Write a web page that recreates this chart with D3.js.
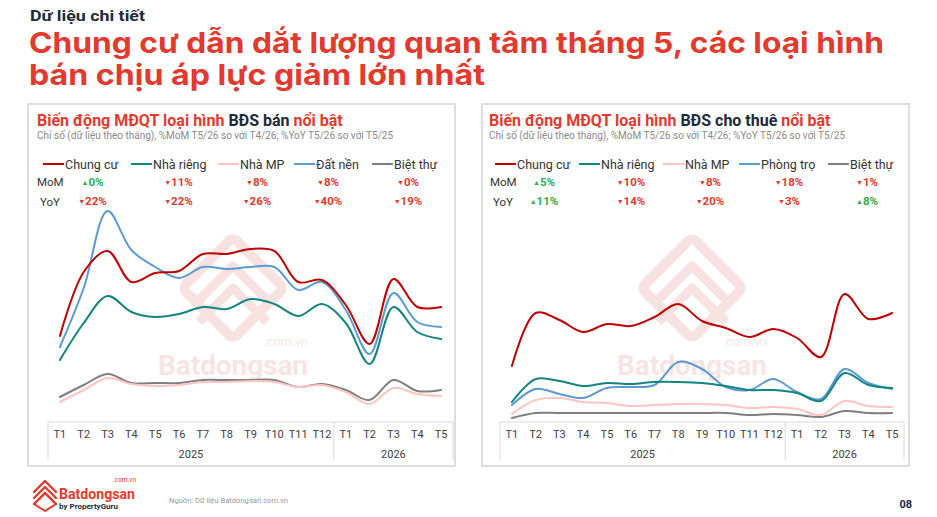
<!DOCTYPE html>
<html lang="vi">
<head>
<meta charset="utf-8">
<script src="https://cdn.jsdelivr.net/npm/d3@7/dist/d3.min.js"></script>
<style>
  html, body { margin: 0; padding: 0; background: #ffffff; }
  svg { display: block; font-family: Roboto, "Noto Sans", Arial, sans-serif; }
</style>
</head>
<body>
<svg id="chart" width="937" height="517"></svg>
<script>
// ---------------- DATA ----------------
const monthLabels = ["T1","T2","T3","T4","T5","T6","T7","T8","T9","T10","T11","T12","T1","T2","T3","T4","T5"];
const yearLabels = ["2025", "2026"];
const yearMonthCounts = [12, 5];

// Sale (BĐS bán) – index values
const saleNames = ["Chung cư", "Nhà riêng", "Nhà MP", "Đất nền", "Biệt thự"];
const saleChungCu = [43, 75, 85.5, 70, 74.5, 75.5, 84, 84, 86.5, 85.5, 70, 71, 58.5, 39, 71.5, 57.5, 57.5];
const saleNhaRieng = [31, 49.5, 63, 55, 52.5, 54, 57.5, 56.5, 61.5, 59, 53, 59, 49.5, 29, 57.5, 45, 41.5];
const saleNhaMP = [10, 16, 22, 19, 18, 18.5, 20, 20, 20.5, 20, 17.5, 18.5, 15, 9, 17, 14, 13];
const saleDatNen = [37.5, 67, 105.5, 86, 77.5, 72, 77.5, 76.5, 77.5, 77.5, 66, 70, 56, 34, 64.5, 50, 47.5];
const saleBietThu = [12.5, 18.5, 24, 19.5, 19.5, 19.5, 21, 21, 21, 21, 17.5, 19, 16, 11, 21, 15.5, 16];
const saleMoM = [0.3, -11, -8, -8, -0.4];
const saleYoY = [-22, -22, -26, -40, -19];

// Rent (BĐS cho thuê)
const rentNames = ["Chung cư", "Nhà riêng", "Nhà MP", "Phòng trọ", "Biệt thự"];
const rentChungCu = [28, 54.5, 51, 45, 49, 48, 52.5, 59, 50.5, 47, 42.5, 46.5, 42, 32.5, 64, 51.5, 54.5];
const rentNhaRieng = [10, 21.5, 20.5, 18, 19.5, 19, 20, 20, 19.5, 18, 16, 16, 14.5, 10.5, 24.5, 18.5, 17];
const rentNhaMP = [4, 11, 12, 10, 9.5, 8, 8.5, 9, 9, 8.5, 7, 7.5, 6.5, 3.5, 10.5, 8, 7.5];
const rentPhongTro = [8.5, 16.5, 14, 12, 17, 17.5, 18.5, 30, 26.5, 17.5, 16, 21.5, 15, 11.5, 26.5, 19.5, 16.5];
const rentBietThu = [2, 4.5, 4.5, 4.5, 4.5, 4.5, 4.5, 4.5, 4.5, 4.5, 3.5, 4, 3.5, 2.5, 5.5, 4.5, 4.5];
const rentMoM = [5, -10, -8, -18, -1];
const rentYoY = [11, -14, -20, -3, 8];

// ---------------- STYLE ----------------
const seriesColors = ["#c00000", "#138481", "#ffc4c0", "#5b9bd5", "#7f7f7f"];
const drawOrder = [4, 2, 3, 1, 0];
const RED = "#e23a2e", NAVY = "#1c2b3a", GREEN = "#27ae4f";

const svg = d3.select("#chart");

// ---------------- HEADER ----------------
svg.append("text").attr("x", 30).attr("y", 21)
  .attr("font-size", 15).attr("font-weight", 700).attr("fill", NAVY)
  .attr("textLength", 115).attr("lengthAdjust", "spacingAndGlyphs")
  .text("Dữ liệu chi tiết");
svg.append("text").attr("x", 29).attr("y", 53)
  .attr("font-family", "Inter, Roboto, sans-serif")
  .attr("font-size", 29).attr("font-weight", 700).attr("fill", RED)
  .attr("textLength", 855).attr("lengthAdjust", "spacingAndGlyphs")
  .text("Chung cư dẫn dắt lượng quan tâm tháng 5, các loại hình");
svg.append("text").attr("x", 29).attr("y", 85)
  .attr("font-family", "Inter, Roboto, sans-serif")
  .attr("font-size", 29).attr("font-weight", 700).attr("fill", RED)
  .attr("textLength", 456).attr("lengthAdjust", "spacingAndGlyphs")
  .text("bán chịu áp lực giảm lớn nhất");

// ---------------- FOOTER ----------------
const logo = svg.append("g");
[0, 6, 12].forEach(dy => {
  logo.append("path")
    .attr("d", `M34,${492 + dy} L45,${481 + dy} L56,${492 + dy}`)
    .attr("fill", "none").attr("stroke", RED).attr("stroke-width", 2.4)
    .attr("stroke-linejoin", "round").attr("stroke-linecap", "round");
});
logo.append("path").attr("d", "M34,504 L45,493 L56,504 L45,511 Z")
  .attr("fill", "none").attr("stroke", RED).attr("stroke-width", 2).attr("stroke-linejoin", "round");
svg.append("text").attr("x", 59).attr("y", 499)
  .attr("font-size", 15.5).attr("font-weight", 700).attr("fill", RED)
  .attr("textLength", 76).attr("lengthAdjust", "spacingAndGlyphs")
  .text("Batdongsan");
svg.append("text").attr("x", 136).attr("y", 482).attr("text-anchor", "end")
  .attr("font-size", 6.5).attr("fill", RED).text(".com.vn");
svg.append("text").attr("x", 59).attr("y", 509)
  .attr("font-size", 8).attr("font-weight", 700).attr("fill", NAVY).text("by PropertyGuru");
svg.append("text").attr("x", 169).attr("y", 503)
  .attr("font-size", 7.6).attr("fill", "#9a9a9a").text("Nguồn: Dữ liệu Batdongsan.com.vn");
svg.append("text").attr("x", 912).attr("y", 508).attr("text-anchor", "end")
  .attr("font-size", 11).attr("font-weight", 700).attr("fill", NAVY).text("08");

// ---------------- PANEL ----------------
function fmtPct(v) { return Math.round(Math.abs(v)) + "%"; }

function drawPanel(cfg) {
  const g = svg.append("g");
  const L = cfg.left;
  g.append("rect").attr("x", L).attr("y", 104).attr("width", cfg.width).attr("height", 362)
    .attr("fill", "#fff").attr("stroke", "#dedede").attr("stroke-width", 2);

  // title
  const t = g.append("text").attr("x", cfg.titleX).attr("y", 126)
    .attr("font-size", 16).attr("font-weight", 700);
  t.append("tspan").attr("fill", RED).text("Biến động MĐQT loại hình ");
  t.append("tspan").attr("fill", NAVY).text(cfg.titleMid);
  t.append("tspan").attr("fill", RED).text(" nổi bật");
  g.append("text").attr("x", cfg.titleX).attr("y", 139)
    .attr("font-size", 10).attr("fill", "#8a8a8a")
    .text("Chỉ số (dữ liệu theo tháng), %MoM T5/26 so với T4/26; %YoY T5/26 so với T5/25");

  // legend
  cfg.names.forEach((n, i) => {
    const lx = cfg.legendX[i];
    g.append("line").attr("x1", lx).attr("x2", lx + 21).attr("y1", 164).attr("y2", 164)
      .attr("stroke", seriesColors[i]).attr("stroke-width", 2);
    g.append("text").attr("x", lx + 22).attr("y", 168.5)
      .attr("font-size", 12.5).attr("fill", "#333").text(n);
  });

  // MoM / YoY rows
  g.append("text").attr("x", cfg.momLabelX).attr("y", 186).attr("font-size", 11.5).attr("fill", "#333").text("MoM");
  g.append("text").attr("x", cfg.momLabelX + 3).attr("y", 206).attr("font-size", 11.5).attr("fill", "#333").text("YoY");
  [[cfg.mom, 185.5], [cfg.yoy, 205]].forEach(([arr, yy]) => {
    arr.forEach((v, i) => {
      const up = v > 0;
      const col = up ? GREEN : RED;
      const tx = g.append("text").attr("x", cfg.valueX[i]).attr("y", yy)
        .attr("text-anchor", "middle").attr("fill", col).attr("font-weight", 700).attr("font-size", 11.5);
      tx.append("tspan").attr("font-size", 7).attr("dy", -1).text(up ? "▲" : "▼");
      tx.append("tspan").attr("dy", 1).text(fmtPct(v));
    });
  });

  // scales
  const x = d3.scalePoint().domain(d3.range(monthLabels.length)).range([cfg.axisL, cfg.axisR]).padding(0.5);
  const y = d3.scaleLinear().domain([0, 110]).range([422, 202]);

  // watermark
  const wm = g.append("g").attr("opacity", 0.55);
  const cx = cfg.wmX, cy = 288;
  wm.append("rect").attr("x", -36).attr("y", -36).attr("width", 72).attr("height", 72).attr("rx", 6)
    .attr("transform", `translate(${cx},${cy}) rotate(45)`)
    .attr("fill", "none").attr("stroke", "#f2caca").attr("stroke-width", 10);
  [-8, 14].forEach(dy => {
    wm.append("path").attr("d", `M${cx - 34},${cy + dy + 20} L${cx},${cy + dy - 14} L${cx + 34},${cy + dy + 20}`)
      .attr("fill", "none").attr("stroke", "#f2caca").attr("stroke-width", 9).attr("stroke-linejoin", "round");
  });
  wm.append("text").attr("x", cx).attr("y", 375).attr("text-anchor", "middle")
    .attr("font-size", 27).attr("font-weight", 700).attr("fill", "#f3cfcf")
    .attr("textLength", 150).attr("lengthAdjust", "spacingAndGlyphs")
    .text("Batdongsan");
  wm.append("text").attr("x", cx + 75).attr("y", 346).attr("text-anchor", "end")
    .attr("font-size", 12.5).attr("fill", "#f3cfcf").text(".com.vn");

  // lines
  const line = d3.line().x((d, i) => x(i)).y(d => y(d)).curve(d3.curveCatmullRom.alpha(0.5));
  drawOrder.forEach(si => {
    g.append("path").datum(cfg.series[si]).attr("d", line)
      .attr("fill", "none").attr("stroke", seriesColors[si]).attr("stroke-width", 2)
      .attr("stroke-linecap", "round");
  });

  // category axis box
  const ax = g.append("g").attr("stroke", "#d9d9d9").attr("stroke-width", 1);
  ax.append("line").attr("x1", cfg.axisL).attr("x2", cfg.axisR).attr("y1", 422).attr("y2", 422);
  let acc = 0;
  const bounds = [cfg.axisL];
  yearMonthCounts.forEach(c => { acc += c; bounds.push(cfg.axisL + acc * x.step()); });
  bounds.forEach(bx => ax.append("line").attr("x1", bx).attr("x2", bx).attr("y1", 422).attr("y2", 460));

  monthLabels.forEach((m, i) => {
    g.append("text").attr("x", x(i)).attr("y", 438).attr("text-anchor", "middle")
      .attr("font-size", 11).attr("fill", "#404040").text(m);
  });
  yearLabels.forEach((yl, k) => {
    g.append("text").attr("x", (bounds[k] + bounds[k + 1]) / 2).attr("y", 458).attr("text-anchor", "middle")
      .attr("font-size", 11).attr("fill", "#404040").text(yl);
  });
}

drawPanel({
  left: 28, width: 427, titleMid: "BĐS bán", titleX: 37,
  names: saleNames,
  series: [saleChungCu, saleNhaRieng, saleNhaMP, saleDatNen, saleBietThu],
  mom: saleMoM, yoy: saleYoY,
  legendX: [43, 131, 218, 294, 372],
  valueX: [92.5, 178.5, 257, 328, 408],
  momLabelX: 37,
  axisL: 48, axisR: 453,
  wmX: 233
});
drawPanel({
  left: 482, width: 427, titleMid: "BĐS cho thuê", titleX: 489,
  names: rentNames,
  series: [rentChungCu, rentNhaRieng, rentNhaMP, rentPhongTro, rentBietThu],
  mom: rentMoM, yoy: rentYoY,
  legendX: [495, 579, 663, 739, 828],
  valueX: [544, 631, 710, 789, 867],
  momLabelX: 490,
  axisL: 500, axisR: 904,
  wmX: 692
});
</script>
</body>
</html>
